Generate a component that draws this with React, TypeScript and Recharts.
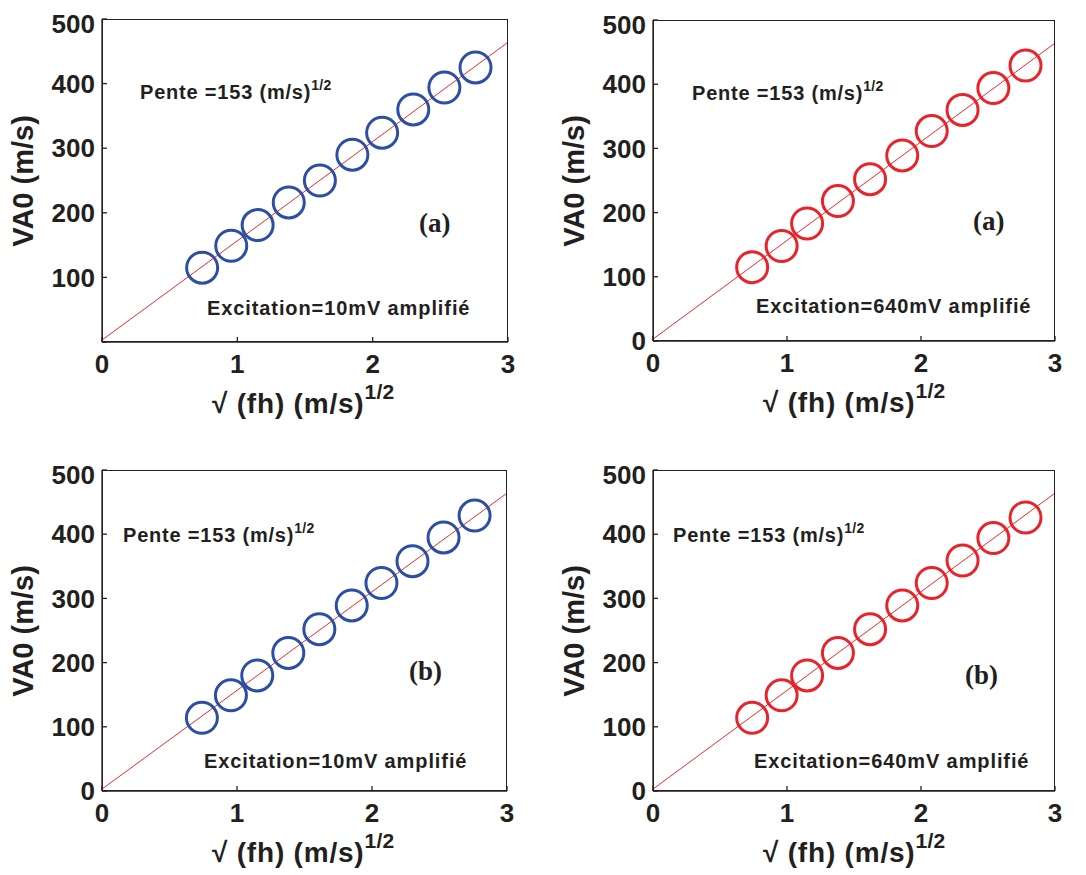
import React from 'react';
import { ComposedChart, Scatter, XAxis, YAxis, ReferenceLine } from 'recharts';

// measured points, sqrt(fh) vs VA0
const xA10 = [0.74, 0.955, 1.15, 1.38, 1.61, 1.85, 2.07, 2.3, 2.53, 2.76];
const yA10 = [115, 149, 181, 216, 250, 290, 324, 360, 394, 425];
const xA640 = [0.74, 0.96, 1.15, 1.38, 1.62, 1.86, 2.08, 2.31, 2.54, 2.78];
const yA640 = [115, 148, 183, 218, 252, 289, 327, 360, 394, 429];
const xB10 = [0.74, 0.955, 1.15, 1.38, 1.61, 1.85, 2.07, 2.3, 2.53, 2.76];
const yB10 = [114, 149, 180, 215, 252, 289, 324, 358, 395, 429];
const xB640 = [0.74, 0.96, 1.15, 1.38, 1.62, 1.86, 2.08, 2.31, 2.54, 2.78];
const yB640 = [114, 149, 180, 215, 252, 289, 324, 359, 394, 426];

// fitted line ends
const fitX = [0, 3];
const fitY = [3, 464];

const xTicks = [0, 1, 2, 3];
const yTicks = [0, 100, 200, 300, 400, 500];
const yTicksNoZero = [100, 200, 300, 400, 500];

const BLUE = '#2c4fa3';
const RED = '#e8242b';
const INK = '#231f20';
const SANS = '"Liberation Sans", Arial, sans-serif';
const SERIF = '"Liberation Serif", "Times New Roman", serif';

const ML = 90, MR = 20, MT = 10, MB = 60;

type PanelProps = {
  xs: number[];
  ys: number[];
  color: string;
  box: { left: number; top: number; right: number; bottom: number };
  yLabels: number[];
  tag: string;
  excitation: string;
  pente: [number, number];
  tagPos: [number, number];
  excPos: [number, number];
};

const Ring = (props: any) => {
  const { cx, cy, fill } = props;
  if (cx == null || cy == null) return null;
  return <circle cx={cx} cy={cy} r={15.5} fill="none" stroke={fill} strokeWidth={3} />;
};

const Nothing = () => <g />;

const Panel = ({ xs, ys, color, box, yLabels, tag, excitation, pente, tagPos, excPos }: PanelProps) => {
  const data = xs.map((x, i) => ({ x, y: ys[i] }));
  const w = box.right - box.left;
  const h = box.bottom - box.top;
  const tickStyle = { fontFamily: SANS, fontWeight: 700, fontSize: 26, fill: INK };
  const txt: React.CSSProperties = { position: 'absolute', fontFamily: SANS, fontWeight: 700, color: INK, whiteSpace: 'nowrap', lineHeight: 1 };
  return (
    <>
      <div style={{ position: 'absolute', left: box.left - ML, top: box.top - MT }}>
        <ComposedChart width={w + ML + MR} height={h + MT + MB} margin={{ top: MT, right: MR, bottom: 0, left: 0 }}>
          <XAxis xAxisId="b" dataKey="x" type="number" domain={[0, 3]} ticks={xTicks} allowDataOverflow
            height={MB} tickSize={-5} tickMargin={18} stroke={INK} strokeWidth={1.3} tick={tickStyle} />
          <XAxis xAxisId="t" dataKey="x" orientation="top" type="number" domain={[0, 3]} ticks={xTicks} height={0}
            allowDataOverflow tickSize={-5} tick={false} stroke={INK} strokeWidth={1.3} />
          <YAxis yAxisId="l" dataKey="y" type="number" domain={[0, 500]} ticks={yTicks} allowDataOverflow
            width={ML} tickSize={-5} tickMargin={12} stroke={INK} strokeWidth={1.3}
            tick={tickStyle} tickFormatter={(v: number) => (yLabels.includes(v) ? String(v) : '')} />
          <YAxis yAxisId="r" dataKey="y" orientation="right" type="number" domain={[0, 500]} ticks={yTicks} width={0}
            allowDataOverflow tickSize={-5} tick={false} stroke={INK} strokeWidth={1.3} />
          <ReferenceLine xAxisId="b" yAxisId="l" segment={[{ x: fitX[0], y: fitY[0] }, { x: fitX[1], y: fitY[1] }]}
            stroke="#f0282d" strokeWidth={1} ifOverflow="visible" />
          <Scatter xAxisId="t" yAxisId="r" data={data} shape={<Nothing />} isAnimationActive={false} />
          <Scatter xAxisId="b" yAxisId="l" data={data} fill={color} shape={<Ring />} isAnimationActive={false} />
        </ComposedChart>
      </div>
      <div style={{ position: 'absolute', left: box.left, top: box.top, width: w, height: h,
        boxSizing: 'border-box', border: `1.3px solid ${INK}`, pointerEvents: 'none' }} />
      <div style={{ ...txt, left: pente[0], top: pente[1], fontSize: 20, letterSpacing: 0.8 }}>
        Pente =153 (m/s)<span style={{ fontSize: 14, position: 'relative', top: -9, letterSpacing: 0.3 }}>1/2</span>
      </div>
      <div style={{ ...txt, left: tagPos[0], top: tagPos[1], fontSize: 27, fontFamily: SERIF }}>{tag}</div>
      <div style={{ ...txt, left: excPos[0], top: excPos[1], fontSize: 20, letterSpacing: 0.9 }}>{excitation}</div>
      <div style={{ ...txt, left: box.left - 79, top: (box.top + box.bottom) / 2, fontSize: 29,
        transform: 'translate(-50%, -50%) rotate(-90deg)' }}>VA0 (m/s)</div>
      <div style={{ ...txt, left: box.left + 110, top: box.bottom + 48, fontSize: 28, letterSpacing: 0.8 }}>
        √ (fh) (m/s)<span style={{ fontSize: 21, position: 'relative', top: -14, letterSpacing: 0.3 }}>1/2</span>
      </div>
    </>
  );
};

export default function App() {
  return (
    <div style={{ position: 'absolute', left: 0, top: 0, width: 1086, height: 875, background: '#fff', overflow: 'hidden' }}>
      <Panel xs={xA10} ys={yA10} color={BLUE} box={{ left: 102, top: 19, right: 508, bottom: 342 }}
        yLabels={yTicksNoZero} tag="(a)" excitation="Excitation=10mV amplifié"
        pente={[140, 82]} tagPos={[419, 210]} excPos={[207, 298]} />
      <Panel xs={xA640} ys={yA640} color={RED} box={{ left: 653, top: 20, right: 1055, bottom: 341 }}
        yLabels={yTicks} tag="(a)" excitation="Excitation=640mV amplifié"
        pente={[692, 83]} tagPos={[973, 208]} excPos={[756, 296]} />
      <Panel xs={xB10} ys={yB10} color={BLUE} box={{ left: 102, top: 470, right: 507, bottom: 791 }}
        yLabels={yTicks} tag="(b)" excitation="Excitation=10mV amplifié"
        pente={[123, 525]} tagPos={[409, 658]} excPos={[204, 751]} />
      <Panel xs={xB640} ys={yB640} color={RED} box={{ left: 653, top: 470, right: 1055, bottom: 791 }}
        yLabels={yTicks} tag="(b)" excitation="Excitation=640mV amplifié"
        pente={[673, 525]} tagPos={[965, 662]} excPos={[754, 751]} />
    </div>
  );
}
